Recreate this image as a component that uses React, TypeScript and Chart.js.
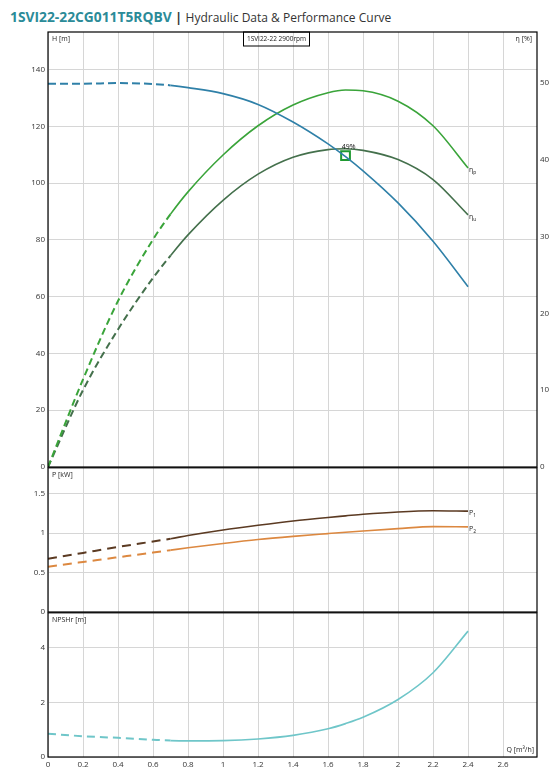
import React, { useEffect, useRef } from 'react';
import { Chart, registerables } from 'chart.js';

Chart.register(...registerables);

// ---- data ----
const flowQ = [0, 0.2, 0.4, 0.6, 0.7, 0.8, 1.0, 1.2, 1.4, 1.6, 1.7, 1.8, 2.0, 2.2, 2.4];
const headH = [135.0, 135.0, 135.2, 134.9, 134.4, 133.6, 131.5, 127.7, 121.5, 113.8, 109.3, 104.3, 93.0, 79.5, 63.5];
const etaP = [0, 11.4, 21.6, 29.6, 32.9, 35.8, 40.6, 44.4, 47.1, 48.7, 49.05, 48.95, 47.6, 44.4, 38.9];
const etaU = [0, 10.0, 17.9, 24.6, 27.5, 30.2, 34.7, 38.1, 40.3, 41.3, 41.4, 41.2, 40.0, 37.4, 32.8];
const powerP1 = [0.675, 0.75, 0.825, 0.895, 0.93, 0.97, 1.04, 1.10, 1.155, 1.20, 1.22, 1.24, 1.27, 1.285, 1.28];
const powerP2 = [0.575, 0.635, 0.695, 0.755, 0.785, 0.815, 0.87, 0.92, 0.96, 0.995, 1.012, 1.028, 1.058, 1.083, 1.08];
const npshR = [0.85, 0.76, 0.70, 0.63, 0.60, 0.59, 0.60, 0.66, 0.79, 1.03, 1.22, 1.45, 2.1, 3.08, 4.6];
const bepQ = [1.7];
const bepEta = [40.5];
const bepLabel = '49%';
const DASH_LIMIT_Q = 0.7;

const Q_MAX = 2.794;
const H_MAX = 153.2;
const ETA_MAX = 56.6;
const P_MAX = 1.83;
const NPSH_MAX = 5.27;

const TITLE_CODE = '1SVI22-22CG011T5RQBV';
const TITLE_TEXT = 'Hydraulic Data & Performance Curve';
const CURVE_NAME = '1SVI22-22 2900rpm';

// ---- styles ----
const FONT = '"Open Sans", "DejaVu Sans", sans-serif';
const GRID = '#d6d6d6';
const TICK_COLOR = '#333';
const C_H = '#2f80a8';
const C_ETAP = '#3aa43a';
const C_ETAU = '#44704c';
const C_P1 = '#5b3a22';
const C_P2 = '#dc8840';
const C_NPSH = '#6fc6c9';
const C_BEP = '#1f9a30';

const pts = (ys: number[]) => flowQ.map((x, i) => ({ x, y: ys[i] }));

const fmt = (v: number) => String(Math.round(v * 100) / 100);

const tickFont = { family: FONT, size: 8 };

function xScale(showLabels: boolean) {
  return {
    type: 'linear',
    min: 0,
    max: Q_MAX,
    ticks: {
      stepSize: 0.2,
      includeBounds: false,
      display: showLabels,
      padding: 3,
      autoSkip: false,
      maxRotation: 0,
      font: tickFont,
      color: TICK_COLOR,
      callback: (v: number) => fmt(v),
    },
    grid: { color: GRID, drawTicks: false, lineWidth: 1 },
    border: { display: false },
    afterFit: (s: any) => {
      s.height = showLabels ? 17 : 0;
    },
  };
}

function leftScale(max: number, step: number) {
  return {
    type: 'linear',
    position: 'left',
    min: 0,
    max,
    ticks: {
      stepSize: step,
      includeBounds: false,
      padding: 3,
      font: tickFont,
      color: TICK_COLOR,
      callback: (v: number) => fmt(v),
    },
    grid: { color: GRID, drawTicks: false, lineWidth: 1 },
    border: { display: false },
    afterFit: (s: any) => {
      s.width = 48;
    },
  };
}

function lineDs(data: number[], color: string, dash: number[], yAxisID = 'y') {
  return {
    data: pts(data),
    yAxisID,
    borderColor: color,
    borderWidth: 1.6,
    pointRadius: 0,
    fill: false,
    cubicInterpolationMode: 'monotone',
    segment: {
      borderDash: (ctx: any) => (ctx.p0.parsed.x < DASH_LIMIT_Q - 0.001 ? dash : undefined),
      borderWidth: (ctx: any) => (ctx.p0.parsed.x < DASH_LIMIT_Q - 0.001 ? 2 : 1.6),
    },
  };
}

function endLabel(ctx: CanvasRenderingContext2D, chart: any, dsIndex: number, main: string, sub: string) {
  const meta = chart.getDatasetMeta(dsIndex);
  const el = meta.data[meta.data.length - 1];
  if (!el) return;
  const x = el.x + 1;
  const y = el.y + 2;
  ctx.fillStyle = '#222';
  ctx.textAlign = 'left';
  ctx.textBaseline = 'middle';
  ctx.font = `7px ${FONT}`;
  ctx.fillText(main, x, y);
  const w = ctx.measureText(main).width;
  ctx.font = `5px ${FONT}`;
  ctx.fillText(sub, x + w, y + 2.5);
}

function framePlugin(drawTexts: (ctx: CanvasRenderingContext2D, chart: any) => void) {
  return {
    id: 'frameAndTexts',
    afterDraw(chart: any) {
      const { ctx, chartArea: a } = chart;
      ctx.save();
      ctx.strokeStyle = '#000';
      ctx.lineWidth = 1.2;
      ctx.strokeRect(a.left, a.top, a.right - a.left, a.bottom - a.top);
      drawTexts(ctx, chart);
      ctx.restore();
    },
  };
}

const baseOptions = {
  responsive: false,
  animation: false,
  events: [],
  plugins: { legend: { display: false }, tooltip: { enabled: false }, title: { display: false } },
};

export default function App() {
  const ref1 = useRef<HTMLCanvasElement>(null);
  const ref2 = useRef<HTMLCanvasElement>(null);
  const ref3 = useRef<HTMLCanvasElement>(null);

  useEffect(() => {
    Chart.defaults.font.family = FONT;

    const top = new Chart(ref1.current as HTMLCanvasElement, {
      type: 'line',
      data: {
        datasets: [
          lineDs(headH, C_H, [8, 4], 'y'),
          lineDs(etaP, C_ETAP, [7, 4], 'y2'),
          lineDs(etaU, C_ETAU, [7, 4], 'y2'),
          {
            data: bepQ.map((x, i) => ({ x, y: bepEta[i] })),
            yAxisID: 'y2',
            showLine: false,
            pointStyle: 'rect',
            pointRadius: 6.2,
            pointBorderWidth: 2,
            pointBorderColor: C_BEP,
            pointBackgroundColor: 'rgba(0,0,0,0)',
          },
        ],
      },
      options: {
        ...baseOptions,
        layout: { padding: { top: 32, bottom: 9, left: 0, right: 0 } },
        scales: {
          x: xScale(false),
          y: leftScale(H_MAX, 20),
          y2: {
            type: 'linear',
            position: 'right',
            min: 0,
            max: ETA_MAX,
            ticks: {
              stepSize: 10,
              includeBounds: false,
              padding: 3,
              font: tickFont,
              color: TICK_COLOR,
              callback: (v: number) => fmt(v),
            },
            grid: { display: false, drawTicks: false },
            border: { display: false },
            afterFit: (s: any) => {
              s.width = 20;
            },
          },
        },
      } as any,
      plugins: [
        framePlugin((ctx, chart) => {
          const a = chart.chartArea;
          ctx.fillStyle = '#222';
          ctx.font = `7px ${FONT}`;
          ctx.textBaseline = 'middle';
          ctx.textAlign = 'left';
          ctx.fillText('H [m]', a.left + 4, a.top + 7);
          ctx.textAlign = 'right';
          ctx.fillText('η [%]', a.right - 5, a.top + 7);
          // curve name box
          ctx.lineWidth = 1;
          ctx.strokeStyle = '#000';
          ctx.strokeRect(243.5, a.top, 66, 14);
          ctx.textAlign = 'center';
          ctx.font = `6.5px ${FONT}`;
          ctx.fillText(CURVE_NAME, 276.5, a.top + 7.5);
          endLabel(ctx, chart, 1, 'η', 'p');
          endLabel(ctx, chart, 2, 'η', 'u');
          const bm = chart.getDatasetMeta(3).data[0];
          if (bm) {
            ctx.fillStyle = '#111';
            ctx.font = `7px ${FONT}`;
            ctx.textAlign = 'center';
            ctx.textBaseline = 'middle';
            ctx.fillText(bepLabel, bm.x + 3, bm.y - 9);
          }
        }),
      ],
    });

    const mid = new Chart(ref2.current as HTMLCanvasElement, {
      type: 'line',
      data: {
        datasets: [lineDs(powerP1, C_P1, [9, 6], 'y'), lineDs(powerP2, C_P2, [9, 6], 'y')],
      },
      options: {
        ...baseOptions,
        layout: { padding: { top: 7, bottom: 8, left: 0, right: 20 } },
        scales: {
          x: xScale(false),
          y: leftScale(P_MAX, 0.5),
        },
      } as any,
      plugins: [
        framePlugin((ctx, chart) => {
          const a = chart.chartArea;
          ctx.fillStyle = '#222';
          ctx.font = `7px ${FONT}`;
          ctx.textBaseline = 'middle';
          ctx.textAlign = 'left';
          ctx.fillText('P [kW]', a.left + 4, a.top + 7);
          endLabel(ctx, chart, 0, 'P', '1');
          endLabel(ctx, chart, 1, 'P', '2');
        }),
      ],
    });

    const bot = new Chart(ref3.current as HTMLCanvasElement, {
      type: 'line',
      data: {
        datasets: [lineDs(npshR, C_NPSH, [8, 5], 'y')],
      },
      options: {
        ...baseOptions,
        layout: { padding: { top: 7, bottom: 0, left: 0, right: 20 } },
        scales: {
          x: xScale(true),
          y: leftScale(NPSH_MAX, 2),
        },
      } as any,
      plugins: [
        framePlugin((ctx, chart) => {
          const a = chart.chartArea;
          ctx.fillStyle = '#222';
          ctx.font = `7px ${FONT}`;
          ctx.textBaseline = 'middle';
          ctx.textAlign = 'left';
          ctx.fillText('NPSHr [m]', a.left + 4, a.top + 7);
          ctx.textAlign = 'right';
          ctx.fillText('Q [m³/h]', a.right - 3, a.bottom - 7);
        }),
      ],
    });

    return () => {
      top.destroy();
      mid.destroy();
      bot.destroy();
    };
  }, []);

  const abs = (t: number, h: number): React.CSSProperties => ({
    position: 'absolute',
    left: 0,
    top: t,
    width: 557,
    height: h,
  });

  return (
    <div style={{ position: 'absolute', left: 0, top: 0, width: 557, height: 774, background: '#fff', overflow: 'hidden' }}>
      <div
        style={{
          position: 'absolute',
          left: 10,
          top: 6,
          fontFamily: FONT,
          lineHeight: '20px',
          whiteSpace: 'nowrap',
        }}
      >
        <span style={{ color: '#2b8b98', fontWeight: 700, fontSize: 13.8 }}>{TITLE_CODE}</span>
        <span style={{ color: '#333', fontWeight: 700, fontSize: 13 }}> | </span>
        <span style={{ color: '#333', fontSize: 12 }}>{TITLE_TEXT}</span>
      </div>
      <canvas ref={ref1} width={557} height={476} style={abs(0, 476)} />
      <canvas ref={ref2} width={557} height={160} style={abs(460, 160)} />
      <canvas ref={ref3} width={557} height={169} style={abs(605, 169)} />
    </div>
  );
}
